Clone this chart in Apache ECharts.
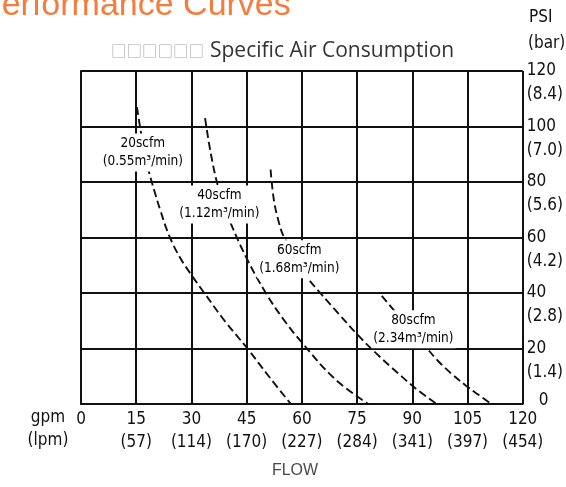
<!DOCTYPE html>
<html>
<head>
<meta charset="utf-8">
<script src="https://cdn.jsdelivr.net/npm/echarts@6/dist/echarts.min.js"></script>
<style>
html,body{margin:0;padding:0;background:#fff;}
#chart{width:566px;height:487px;}
</style>
</head>
<body>
<div id="chart"></div>
<script>
// ---- data ----
const gpmTicks = [0, 15, 30, 45, 60, 75, 90, 105, 120];
const lpmLabels = ['', '57', '114', '170', '227', '284', '341', '397', '454'];
const psiTicks = [0, 20, 40, 60, 80, 100, 120];
const barLabels = ['', '1.4', '2.8', '4.2', '5.6', '7.0', '8.4'];

const curveNames = ['20scfm', '40scfm', '60scfm', '80scfm'];
const curveM3 = ['0.55', '1.12', '1.68', '2.34'];

// [flow gpm, pressure psi]
const curve20 = [[15.2,107],[16.4,97],[17.4,90.5],[18.4,84],[20,76.5],[21.5,70],[24,60.5],[27,52.5],[30,46.5],[33.5,40],[39,30],[45.2,20],[51,10],[57,0]];
const curve40 = [[33.7,103],[35.3,90],[37.1,79],[38.8,72],[40.7,65],[45.2,52],[50.2,40],[55,30.5],[60.1,22],[69,9],[78,0]];
const curve60 = [[51.5,84.5],[52.4,73.5],[53.8,65.2],[55.1,60.3],[58,53.5],[61,46.5],[65,40],[70,32.5],[75.1,25],[80,18.5],[86.2,11],[91,5.5],[96.6,0]];
const curve80 = [[81.7,39],[85.3,33.3],[89.5,27],[93.4,21],[97,15.5],[101,10.5],[104.5,6.7],[108,3.3],[111.4,0]];
const curveLabelAt = [[16.8,90.6],[37.6,71.9],[59.3,52.2],[90.3,26.9]];

// ---- chart ----
const NARROW = '"Liberation Sans Narrow","DejaVu Sans Condensed","Arial Narrow",sans-serif';
const INK = '#111';
const chart = echarts.init(document.getElementById('chart'), null, {renderer: 'canvas'});

const curves = [curve20, curve40, curve60, curve80];
const series = curves.map((c, i) => ({
  type: 'line',
  name: curveNames[i],
  data: c,
  smooth: 0.4,
  showSymbol: false,
  symbol: 'none',
  silent: true,
  z: 3,
  lineStyle: {color: INK, width: 1.9, type: [8, 4]}
}));
series.push({
  type: 'custom',
  silent: true,
  z: 8,
  data: curveLabelAt,
  renderItem: (params, api) => {
    const pt = api.coord([api.value(0), api.value(1)]);
    const i = params.dataIndex;
    return {
      type: 'text',
      x: pt[0], y: pt[1],
      z2: 10,
      style: {
        text: curveNames[i] + '\n(' + curveM3[i] + 'm³/min)',
        font: '13.5px ' + NARROW,
        lineHeight: 18,
        fill: '#000',
        align: 'center',
        verticalAlign: 'middle',
        backgroundColor: '#fff',
        padding: [1, 2]
      }
    };
  }
});

const yBase = {
  type: 'value', position: 'right', min: 0, max: 120, interval: 20, offset: 0,
  axisTick: {show: false}
};

chart.setOption({
  animation: false,
  backgroundColor: '#fff',
  grid: {left: 81, right: 41, top: 71, bottom: 83, containLabel: false},
  xAxis: {
    type: 'value', min: 0, max: 120, interval: 15,
    axisLine: {show: true, lineStyle: {color: INK, width: 2}},
    axisTick: {show: false},
    splitLine: {show: true, lineStyle: {color: INK, width: 2}},
    axisLabel: {
      margin: 4, showMinLabel: true, showMaxLabel: true,
      fontFamily: NARROW, fontSize: 17, lineHeight: 23, color: INK,
      formatter: (v) => {
        const i = gpmTicks.indexOf(v);
        return lpmLabels[i] ? v + '\n(' + lpmLabels[i] + ')' : String(v);
      }
    }
  },
  yAxis: [
    Object.assign({}, yBase, {
      axisLine: {show: true, lineStyle: {color: INK, width: 2}},
      splitLine: {show: true, lineStyle: {color: INK, width: 2}},
      axisLabel: {
        margin: 4, showMinLabel: true, showMaxLabel: true,
        fontFamily: NARROW, fontSize: 17, color: INK,
        formatter: (v) => v === 0 ? '{z|0}' : String(v),
        rich: {z: {fontFamily: NARROW, fontSize: 17, color: INK, padding: [0, 0, 6, 12]}}
      }
    }),
    Object.assign({}, yBase, {
      axisLine: {show: false},
      splitLine: {show: false},
      axisLabel: {
        margin: 4, showMinLabel: true, showMaxLabel: true,
        fontFamily: NARROW, fontSize: 17, color: INK,
        verticalAlign: 'top', lineHeight: 48,
        formatter: (v) => {
          const i = psiTicks.indexOf(v);
          return barLabels[i] ? '(' + barLabels[i] + ')' : '';
        }
      }
    })
  ],
  graphic: [
    {type: 'text', x: -21, y: 6, silent: true,
     style: {text: 'Performance Curves', font: '34px "Liberation Sans", Arial, sans-serif', fill: '#f47c3c', verticalAlign: 'middle', textVerticalAlign: 'middle'}},
    {type: 'text', x: 111, y: 51, silent: true,
     style: {text: '□□□□□□', font: '15.5px "Noto Sans CJK SC", "DejaVu Sans", sans-serif', fill: '#a8a8a8', verticalAlign: 'middle', textVerticalAlign: 'middle'}},
    {type: 'text', x: 210, y: 51, silent: true,
     style: {text: 'Specific Air Consumption', font: '21px "Open Sans", Arial, sans-serif', fill: '#333', verticalAlign: 'middle', textVerticalAlign: 'middle'}},
    {type: 'text', x: 529, y: 18, silent: true,
     style: {text: 'PSI', font: '17px ' + NARROW, fill: INK, verticalAlign: 'middle', textVerticalAlign: 'middle'}},
    {type: 'text', x: 528, y: 44, silent: true,
     style: {text: '(bar)', font: '17px ' + NARROW, fill: INK, verticalAlign: 'middle', textVerticalAlign: 'middle'}},
    {type: 'text', x: 48, y: 418, silent: true,
     style: {text: 'gpm', font: '17px ' + NARROW, fill: INK, align: 'center', textAlign: 'center', verticalAlign: 'middle', textVerticalAlign: 'middle'}},
    {type: 'text', x: 48, y: 441, silent: true,
     style: {text: '(lpm)', font: '17px ' + NARROW, fill: INK, align: 'center', textAlign: 'center', verticalAlign: 'middle', textVerticalAlign: 'middle'}},
    {type: 'text', x: 295, y: 471, silent: true,
     style: {text: 'FLOW', font: '16px "Liberation Sans", Arial, sans-serif', fill: '#4a4a4a', align: 'center', textAlign: 'center', verticalAlign: 'middle', textVerticalAlign: 'middle'}}
  ],
  series: series
});
</script>
</body>
</html>
